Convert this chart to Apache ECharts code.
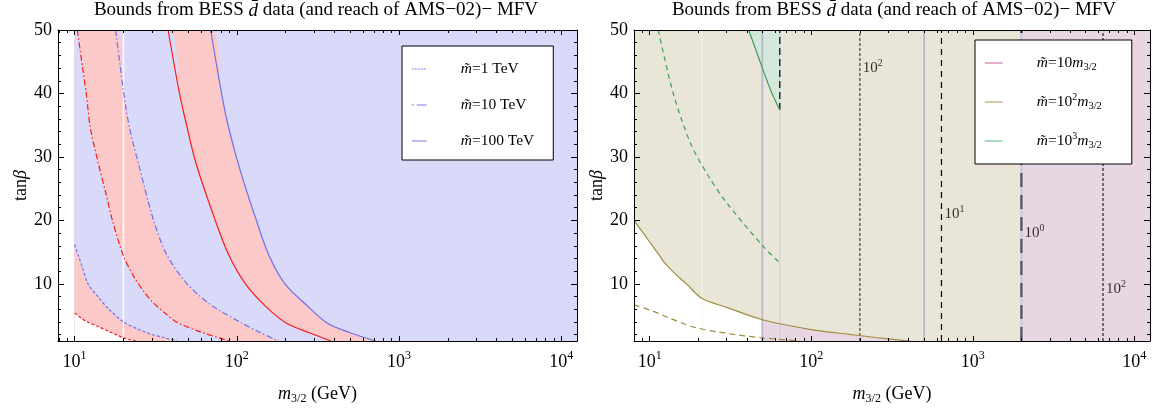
<!DOCTYPE html>
<html>
<head>
<meta charset="utf-8">
<script src="https://cdn.jsdelivr.net/npm/echarts@6/dist/echarts.min.js"></script>
<style>
html, body { margin: 0; padding: 0; background: #fff; }
#chart { width: 1153px; height: 410px; }
</style>
</head>
<body>
<div id="chart"></div>
<script>
// axis ticks
var xMajor = [10, 100, 1000, 10000];
var xMinor = [8, 9, 20, 30, 40, 50, 60, 70, 80, 90, 200, 300, 400, 500, 600, 700, 800, 900,
              2000, 3000, 4000, 5000, 6000, 7000, 8000, 9000];
var yMajor = [10, 20, 30, 40, 50];
var yMinor = [2, 4, 6, 8, 12, 14, 16, 18, 22, 24, 26, 28, 32, 34, 36, 38, 42, 44, 46, 48];

// left panel: red = BESS bound, blue = AMS-02 reach  (m3/2 [GeV], tan beta)
var red1  = [[10,5.4],[11,4.6],[12,4.0],[13.9,3.3],[16,2.6],[18,2.0],[20,1.5],[22,1.2],[24,1.0]];
var blue1 = [[10,16.2],[10.5,14.6],[11.2,12.5],[12.1,10],[13.9,8.0],[16,6.2],[20,4.0],[25,2.8],[29.8,2.05],[36,1.5],[43,1.0]];
var red2  = [[10.4,50],[11.2,44],[11.8,40],[12.5,34.6],[14,29],[15.5,24.5],[17.1,20],[20,14.4],[23.6,10.8],[26.9,8.7],[30,7.2],[36,5.4],[43,3.9],[60,2.4],[90,1.0]];
var blue2 = [[17.9,50],[20.1,40],[21.8,34.6],[25,28.5],[30.7,20],[37,14.6],[49.4,10],[70,6.6],[107,3.85],[140,2.3],[181,1.0]];
var red3  = [[37.7,50],[44.3,40],[49,35],[56,29],[73.6,20],[89,14.6],[113,10],[150,6.5],[201,3.85],[280,2.3],[380,1.0]];
var blue3 = [[69,50],[80.5,40],[89,34.6],[106,27.5],[132,20],[157,14.6],[198,10],[265,6.8],[360,3.85],[500,2.3],[716,1.0]];
var bandStart = 10;      // left edge of the shaded bands
var leftGuide = [20];    // thin white vertical line

// right panel
var oliveSolid  = [[8.0,20],[10,16.6],[11.4,14.6],[12.3,13.4],[14.5,11.5],[16.9,10],[21.1,7.7],[30,6.3],[49.8,4.35],[100,2.8],[172,2.05],[250,1.55],[407,1.0]];
var oliveDashed = [[8.0,6.7],[10.5,5.7],[13,4.7],[16,3.8],[19.3,3.1],[30,2.2],[49.8,1.5],[85,1.0]];
var greenDashed = [[11.3,50],[14,40],[18,32],[23.1,27],[29.9,22.8],[50.5,15.9],[63.9,13.3]];
var greenSolid  = [[41,50],[45.5,46.8],[50.5,43.6],[56.5,40.3],[63.9,37.4]];
var pinkFrom = 49.8;     // pink strip under the olive curve starts here
var pinkBand = 2000;     // pink region to the right
var guideX = [21.1, 49.8, 63.9, 500];
var contourX = [200, 640, 2000, 6400];
var contourLabelY = [44, 21, 18, 9.2];
var contourExp = ['2', '1', '0', '2'];

var X_MAX = 12500, Y_MIN = 1, Y_MAX = 50;
var FONT = 'Liberation Serif';
var SMOOTH = 0.3;

var supRich = {
  base: { fontFamily: FONT, fontSize: 18, lineHeight: 24, color: '#000' },
  sup: { fontFamily: FONT, fontSize: 12, lineHeight: 12, verticalAlign: 'top', color: '#000' }
};

function powLabel(v) {
  return '{base|10}{sup|' + Math.round(Math.log(v) / Math.LN10) + '}';
}

function xAxes(grid, min) {
  var base = {
    gridIndex: grid, type: 'log', logBase: 10, min: min, max: X_MAX, z: 6,
    splitLine: { show: false },
    axisLine: { show: true, onZero: false, lineStyle: { color: '#000', width: 1 } }
  };
  return [
    Object.assign({}, base, {
      position: 'bottom',
      axisTick: { inside: true, length: 5, customValues: xMajor, lineStyle: { color: '#000' } },
      axisLabel: { customValues: xMajor, formatter: powLabel, rich: supRich, margin: 9 },
      name: '{i|m}{sub|3/2} (GeV)', nameLocation: 'middle', nameGap: 42,
      nameTextStyle: {
        fontFamily: FONT, fontSize: 18, color: '#000', lineHeight: 22,
        rich: {
          i: { fontFamily: FONT, fontSize: 18, fontStyle: 'italic', lineHeight: 22 },
          sub: { fontFamily: FONT, fontSize: 12, lineHeight: 12, verticalAlign: 'bottom' }
        }
      }
    }),
    Object.assign({}, base, {
      position: 'bottom', axisLine: { show: false },
      axisTick: { inside: true, length: 3, customValues: xMinor, lineStyle: { color: '#000' } },
      axisLabel: { show: false }
    }),
    Object.assign({}, base, {
      position: 'top',
      axisTick: { inside: true, length: 5, customValues: xMajor, lineStyle: { color: '#000' } },
      axisLabel: { show: false }
    }),
    Object.assign({}, base, {
      position: 'top', axisLine: { show: false },
      axisTick: { inside: true, length: 3, customValues: xMinor, lineStyle: { color: '#000' } },
      axisLabel: { show: false }
    })
  ];
}

function yAxes(grid) {
  var base = {
    gridIndex: grid, type: 'value', min: Y_MIN, max: Y_MAX, z: 6,
    splitLine: { show: false },
    axisLine: { show: true, onZero: false, lineStyle: { color: '#000', width: 1 } }
  };
  return [
    Object.assign({}, base, {
      position: 'left',
      axisTick: { inside: true, length: 6, customValues: yMajor, lineStyle: { color: '#000' } },
      axisLabel: { customValues: yMajor, fontFamily: FONT, fontSize: 18, color: '#000', margin: 6 },
      name: 'tan{i|β}', nameLocation: 'middle', nameGap: 25, nameRotate: 90,
      nameTextStyle: {
        fontFamily: FONT, fontSize: 18, color: '#000',
        rich: { i: { fontFamily: FONT, fontSize: 18, fontStyle: 'italic' } }
      }
    }),
    Object.assign({}, base, {
      position: 'left', axisLine: { show: false },
      axisTick: { inside: true, length: 3, customValues: yMinor, lineStyle: { color: '#000' } },
      axisLabel: { show: false }
    }),
    Object.assign({}, base, {
      position: 'right',
      axisTick: { inside: true, length: 6, customValues: yMajor, lineStyle: { color: '#000' } },
      axisLabel: { show: false }
    }),
    Object.assign({}, base, {
      position: 'right', axisLine: { show: false },
      axisTick: { inside: true, length: 3, customValues: yMinor, lineStyle: { color: '#000' } },
      axisLabel: { show: false }
    })
  ];
}

function fill(ax, data, color, origin, extra) {
  return Object.assign({
    type: 'line', xAxisIndex: ax, yAxisIndex: ax, data: data, symbol: 'none', silent: true,
    smooth: SMOOTH,
    lineStyle: { width: 0 }, areaStyle: { color: color, opacity: 1, origin: origin || 'start' }, z: 2
  }, extra || {});
}

function curve(ax, name, data, color, type, width) {
  return {
    type: 'line', name: name, xAxisIndex: ax, yAxisIndex: ax, data: data, symbol: 'none', silent: true,
    smooth: SMOOTH,
    lineStyle: { color: color, type: type, width: width || 1.2 }, itemStyle: { color: color }, z: 3
  };
}

function vline(ax, x, color, type, width, y0, y1) {
  return {
    type: 'line', xAxisIndex: ax, yAxisIndex: ax, symbol: 'none', silent: true, z: 3,
    data: [[x, y0 == null ? Y_MIN : y0], [x, y1 == null ? Y_MAX : y1]],
    lineStyle: { color: color, type: type, width: width }
  };
}

function fromTop(c) {
  return [[bandStart, Y_MAX]].concat(c);
}

var series = [
  // left panel fills, outermost first
  fill(0, fromTop(blue3), '#fcc9c9', 'start', {
    markArea: { silent: true, z: 1, itemStyle: { color: '#d9d9f9' },
                data: [[{ xAxis: bandStart }, { xAxis: X_MAX }]] }
  }),
  fill(0, fromTop(red3), '#d9d9f9'),
  fill(0, fromTop(blue2), '#fcc9c9'),
  fill(0, fromTop(red2), '#d9d9f9'),
  fill(0, blue1, '#fcc9c9'),
  fill(0, red1, '#ffffff'),
  vline(0, leftGuide[0], 'rgba(255,255,255,0.9)', 'solid', 1.5),
  curve(0, null, red1, '#ff1a1a', [3, 2]),
  curve(0, '1 TeV', blue1, '#6e6ef0', [3, 2]),
  curve(0, null, red2, '#ff1a1a', [6, 2.5, 1.5, 2.5]),
  curve(0, '10 TeV', blue2, '#6e6ef0', [6, 2.5, 1.5, 2.5]),
  curve(0, null, red3, '#ff1a1a', 'solid'),
  curve(0, '100 TeV', blue3, '#6e6ef0', 'solid'),

  // right panel
  fill(4, oliveSolid.filter(function (p) { return p[0] <= pinkFrom; }), '#ffffff', 'start', {
    markArea: { silent: true, z: 1,
                data: [[{ xAxis: 1, itemStyle: { color: '#e9e5d7' } }, { xAxis: pinkBand }],
                       [{ xAxis: pinkBand, itemStyle: { color: '#e9d6e3' } }, { xAxis: X_MAX }]] }
  }),
  fill(4, oliveSolid.filter(function (p) { return p[0] >= pinkFrom; }), '#e9d6e3'),
  fill(4, greenSolid, '#d5e8dc', 'end'),
  vline(4, guideX[0], '#f7f5ef', 'solid', 1),
  vline(4, guideX[1], '#b8b8cc', 'solid', 1.8),
  vline(4, guideX[2], '#cfcfe4', 'solid', 1.2),
  vline(4, guideX[3], '#b8b8cc', 'solid', 1.8),
  vline(4, contourX[2], '#cfc6de', 'solid', 2.5),
  vline(4, contourX[0], '#6a6a6a', [3, 2], 1.6),
  vline(4, contourX[1], '#000', [6, 5], 1.2),
  vline(4, contourX[2], '#55505a', [14, 8], 2.2),
  vline(4, contourX[3], '#000', [3, 2], 1),
  vline(4, greenSolid[greenSolid.length - 1][0], '#000', [7, 4], 1.2,
        greenSolid[greenSolid.length - 1][1], Y_MAX),
  curve(4, '100m', oliveSolid, '#a08c40', 'solid'),
  curve(4, null, oliveDashed, '#a08c40', [6, 4]),
  curve(4, null, greenDashed, '#3f9c62', [5, 4]),
  curve(4, '1000m', greenSolid, '#3f9c62', 'solid'),
  curve(4, '10m', [], '#d894c0', 'solid'),
  {
    type: 'scatter', xAxisIndex: 4, yAxisIndex: 4, symbolSize: 0, silent: true, z: 3,
    data: contourX.map(function (x, i) { return [x, contourLabelY[i], contourExp[i]]; }),
    label: {
      show: true, position: 'right', distance: 3,
      formatter: function (p) { return '{b|10}{s|' + p.data[2] + '}'; },
      rich: {
        b: { fontFamily: FONT, fontSize: 15, lineHeight: 20, color: '#000' },
        s: { fontFamily: FONT, fontSize: 10, lineHeight: 10, verticalAlign: 'top', color: '#000' }
      }
    }
  }
];

var legendText = {
  '1 TeV': '{i|m\u0303}=1 TeV',
  '10 TeV': '{i|m\u0303}=10 TeV',
  '100 TeV': '{i|m\u0303}=100 TeV',
  '10m': '{i|m\u0303}=10{i|m}{sub|3/2}',
  '100m': '{i|m\u0303}=10{sup|2}{i|m}{sub|3/2}',
  '1000m': '{i|m\u0303}=10{sup|3}{i|m}{sub|3/2}'
};

var legendRich = {
  i: { fontFamily: FONT, fontSize: 15.5, fontStyle: 'italic', lineHeight: 20 },
  sup: { fontFamily: FONT, fontSize: 10, lineHeight: 10, verticalAlign: 'top' },
  sub: { fontFamily: FONT, fontSize: 10.5, lineHeight: 10, verticalAlign: 'bottom' }
};

function legend(left, top, items, w, gap, pad) {
  return {
    orient: 'vertical', left: left, top: top, data: items,
    itemWidth: w, itemHeight: 14, itemGap: gap, selectedMode: false,
    padding: pad, backgroundColor: '#fff', borderColor: '#000', borderWidth: 1, borderRadius: 0,
    itemStyle: { opacity: 0 },
    formatter: function (n) { return legendText[n]; },
    textStyle: { fontFamily: FONT, fontSize: 15.5, color: '#000', lineHeight: 20,
                 padding: [0, 0, 0, 29], rich: legendRich }
  };
}

var titleStyle = {
  fontFamily: FONT, fontSize: 19, fontWeight: 'normal', color: '#000',
  rich: { i: { fontFamily: FONT, fontSize: 19, fontStyle: 'italic' } }
};
var titleText = 'Bounds from BESS {i|d\u0304} data (and reach of AMS\u221202)\u2212 MFV';

var option = {
  animation: false,
  backgroundColor: '#fff',
  title: [
    { text: titleText, left: 314, top: -1, textAlign: 'center', padding: 2, textStyle: titleStyle },
    { text: titleText, left: 892, top: -1, textAlign: 'center', padding: 2, textStyle: titleStyle }
  ],
  legend: [
    legend(402, 46, [
      { name: '1 TeV', itemStyle: { opacity: 0 }, lineStyle: { color: '#a4a4f4', type: [2, 1], width: 1.5 } },
      { name: '10 TeV', itemStyle: { opacity: 0 }, lineStyle: { color: '#a4a4f4', type: [2, 3, 10, 0], width: 1.5 } },
      { name: '100 TeV', itemStyle: { opacity: 0 }, lineStyle: { color: '#a4a4f4', type: 'solid', width: 1.5 } }
    ], 15, 16, [13, 19, 9, 9]),
    legend(975, 40, [
      { name: '10m', itemStyle: { opacity: 0 }, lineStyle: { color: '#d894c0', width: 1.5 } },
      { name: '100m', itemStyle: { opacity: 0 }, lineStyle: { color: '#c8b98c', width: 1.5 } },
      { name: '1000m', itemStyle: { opacity: 0 }, lineStyle: { color: '#8fd0a8', width: 1.5 } }
    ], 18, 19, [13, 30, 13, 9])
  ],
  grid: [
    { left: 58, top: 30, width: 519, height: 318 },
    { left: 634, top: 30, width: 516, height: 318 }
  ],
  xAxis: xAxes(0, 7.9).concat(xAxes(1, 8.0)),
  yAxis: yAxes(0).concat(yAxes(1)),
  series: series
};

var chart = echarts.init(document.getElementById('chart'));
chart.setOption(option);
</script>
</body>
</html>
